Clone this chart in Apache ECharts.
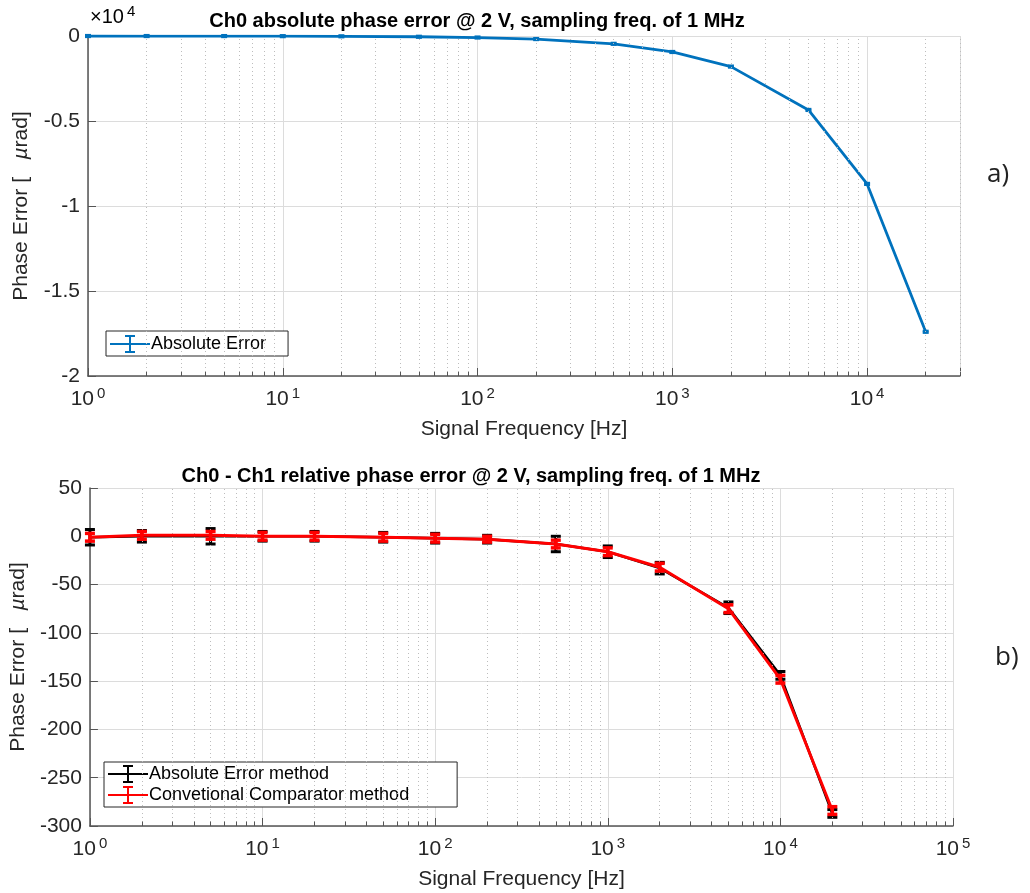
<!DOCTYPE html>
<html>
<head>
<meta charset="utf-8">
<script src="https://cdn.jsdelivr.net/npm/echarts@6/dist/echarts.min.js"></script>
<style>
  html, body { margin: 0; padding: 0; background: #fff; }
  #chart { width: 1030px; height: 893px; }
</style>
</head>
<body>
<div id="chart"></div>
<script>
// signal frequencies [Hz], shared by both panels
const freqs = [1, 2, 5, 10, 20, 50, 100, 200, 500, 1000, 2000, 5000, 10000, 20000]

// a) Ch0 absolute phase error [µrad]
const absError = [-1, -2, -4, -9, -18, -45, -90, -180, -460, -940, -1800, -4350, -8700, -17400]
const absErrorBar = [50, 50, 50, 50, 50, 50, 50, 50, 50, 50, 50, 50, 50, 50]

// b) Ch0 - Ch1 relative phase error [µrad]
const relAbsMethod = [-1, 0, 0, 0, 0, -1, -2, -3, -8, -16, -33, -74, -144, -287]
const relAbsMethodBar = [8, 6, 8, 5, 5, 5, 5, 4, 8, 6, 6, 6, 4, 4]
const relCompMethod = [-1, 1, 1, 0, 0, -1, -2, -3, -8, -16, -32, -75, -148, -284]
const relCompMethodBar = [4, 4, 4, 4, 4, 4, 4, 3, 4, 4, 4, 4, 4, 4]

// dotted minor grid positions on the log axes
const minorTop = [2,3,4,5,6,7,8,9,20,30,40,50,60,70,80,90,200,300,400,500,600,700,800,900,
  2000,3000,4000,5000,6000,7000,8000,9000,20000,30000]
const minorBottom = minorTop.slice(0, -2).concat([20000,30000,40000,50000,60000,70000,80000,90000])

const FONT = 'Arial'
const TXT = '#262626'
const BLUE = '#0072BD'
const ICON = 'path://M0,9L40,9L40,11L0,11Z M19,2L21,2L21,18L19,18Z M15,1L25,1L25,3L15,3Z M15,17L25,17L25,19L15,19Z'

function logLabel(v) {
  const e = Math.round(Math.log10(v))
  if (Math.abs(Math.pow(10, e) - v) > 1e-6 * v) return ''
  return '{b|10}{s|' + e + '}'
}

function xAxisFor(gridIndex, max) {
  return {
    type: 'log', gridIndex, min: 1, max, logBase: 10,
    name: 'Signal Frequency [Hz]', nameLocation: 'middle', nameGap: 43,
    nameTextStyle: { fontFamily: FONT, fontSize: 21, color: TXT },
    axisLine: { onZero: false, lineStyle: { color: '#555', width: 1.5 } },
    axisTick: { inside: true, length: 8, lineStyle: { color: '#555' } },
    splitLine: { show: true, lineStyle: { color: '#dcdcdc', width: 1 } },
    axisLabel: {
      formatter: logLabel, margin: 10, showMaxLabel: true,
      rich: {
        b: { fontFamily: FONT, fontSize: 21, color: TXT, lineHeight: 26 },
        s: { fontFamily: FONT, fontSize: 15, color: TXT, verticalAlign: 'top', lineHeight: 14, padding: [0, 0, 0, 3] }
      }
    }
  }
}

function yAxisFor(gridIndex, min, max, interval, fmt) {
  return {
    type: 'value', gridIndex, min, max, interval,
    name: '{a|Phase Error [   }{m|µ}{a|rad]}', nameLocation: 'middle', nameGap: 56, nameRotate: 90,
    nameTextStyle: {
      rich: {
        a: { fontFamily: FONT, fontSize: 21, color: TXT },
        m: { fontFamily: FONT, fontSize: 21, color: TXT, fontStyle: 'italic' }
      }
    },
    axisLine: { show: true, onZero: false, lineStyle: { color: '#555', width: 1.5 } },
    axisTick: { show: true, inside: true, length: 8, lineStyle: { color: '#555' } },
    splitLine: { show: true, lineStyle: { color: '#dcdcdc', width: 1 } },
    axisLabel: { fontFamily: FONT, fontSize: 21, color: TXT, margin: 8, formatter: fmt }
  }
}

function minorLines(list, yMin, tick) {
  const data = []
  list.forEach(v => {
    data.push({ xAxis: v })
    data.push([{ coord: [v, yMin], lineStyle: { type: 'solid', color: '#555', width: 1 } }, { coord: [v, yMin + tick] }])
  })
  return {
    silent: true, symbol: ['none', 'none'], animation: false,
    label: { show: false },
    lineStyle: { type: [1, 3], color: '#bdbdbd', width: 1 },
    data
  }
}

function errorBars(gridIndex, values, errs, color, capHalf, lw) {
  return {
    type: 'custom', xAxisIndex: gridIndex, yAxisIndex: gridIndex, z: 3,
    data: freqs.map((f, i) => [f, values[i] - errs[i], values[i] + errs[i]]),
    renderItem: (params, api) => {
      const lo = api.coord([api.value(0), api.value(1)])
      const hi = api.coord([api.value(0), api.value(2)])
      const st = { stroke: color, lineWidth: lw }
      return {
        type: 'group',
        children: [
          { type: 'line', shape: { x1: lo[0], y1: lo[1], x2: hi[0], y2: hi[1] }, style: st },
          { type: 'line', shape: { x1: lo[0] - capHalf, y1: lo[1], x2: lo[0] + capHalf, y2: lo[1] }, style: st },
          { type: 'line', shape: { x1: hi[0] - capHalf, y1: hi[1], x2: hi[0] + capHalf, y2: hi[1] }, style: st }
        ]
      }
    }
  }
}

const chart = echarts.init(document.getElementById('chart'), null, { renderer: 'canvas' })

chart.setOption({
  animation: false,
  backgroundColor: '#fff',
  title: [
    { text: 'Ch0 absolute phase error @ 2 V, sampling freq. of 1 MHz', left: 472, top: 6, textAlign: 'center',
      textStyle: { fontFamily: FONT, fontSize: 20, fontWeight: 'bold', color: '#000' } },
    { text: 'Ch0 - Ch1 relative phase error @ 2 V, sampling freq. of 1 MHz', left: 466, top: 461, textAlign: 'center',
      textStyle: { fontFamily: FONT, fontSize: 20, fontWeight: 'bold', color: '#000' } }
  ],
  grid: [
    { left: 88, top: 36, width: 872, height: 340 },
    { left: 88, top: 488, width: 865, height: 338 }
  ],
  xAxis: [xAxisFor(0, 30000), xAxisFor(1, 100000)],
  yAxis: [
    yAxisFor(0, -20000, 0, 5000, v => String(v / 1e4)),
    yAxisFor(1, -300, 50, 50, v => String(v))
  ],
  legend: [
    {
      left: 106, top: 331, orient: 'vertical',
      data: [{ name: 'Absolute Error', icon: ICON }],
      itemWidth: 40, itemHeight: 20, itemGap: 2,
      backgroundColor: '#fff', borderColor: '#262626', borderWidth: 1, borderRadius: 0,
      padding: [4, 22, 3, 4],
      itemStyle: { borderWidth: 0 },
      textStyle: { fontFamily: FONT, fontSize: 18, color: '#000', padding: [0, 0, 0, -4] }
    },
    {
      left: 104, top: 762, orient: 'vertical',
      data: [{ name: 'Absolute Error method', icon: ICON }, { name: 'Convetional Comparator method', icon: ICON }],
      itemWidth: 40, itemHeight: 20, itemGap: 3,
      backgroundColor: '#fff', borderColor: '#262626', borderWidth: 1, borderRadius: 0,
      padding: [3, 48, 3, 4],
      itemStyle: { borderWidth: 0 },
      textStyle: { fontFamily: FONT, fontSize: 18, color: '#000', padding: [0, 0, 0, -4] }
    }
  ],
  graphic: [
    { type: 'text', left: 90, top: 4, style: { text: '{t|×10}{e|4}', rich: {
      t: { fontFamily: FONT, fontSize: 20, color: TXT, lineHeight: 26 },
      e: { fontFamily: FONT, fontSize: 15, color: TXT, verticalAlign: 'top', lineHeight: 14, padding: [0, 0, 0, 3] } } } },
    { type: 'text', left: 987, top: 162, style: { text: 'a)', font: '26px "Open Sans", sans-serif', fill: '#222' } },
    { type: 'text', left: 995, top: 645, style: { text: 'b)', font: '26px "Open Sans", sans-serif', fill: '#222' } }
  ],
  series: [
    { type: 'line', xAxisIndex: 0, yAxisIndex: 0, data: [], z: 0, markLine: minorLines(minorTop, -20000, 240) },
    { type: 'line', xAxisIndex: 1, yAxisIndex: 1, data: [], z: 0, markLine: minorLines(minorBottom, -300, 4.5) },
    errorBars(0, absError, absErrorBar, BLUE, 3, 2.5),
    {
      name: 'Absolute Error', type: 'line', xAxisIndex: 0, yAxisIndex: 0, z: 4,
      data: freqs.map((f, i) => [f, absError[i]]),
      showSymbol: false, symbol: 'none', color: BLUE,
      lineStyle: { color: BLUE, width: 2.8 }
    },
    errorBars(1, relAbsMethod, relAbsMethodBar, '#000', 5, 3),
    {
      name: 'Absolute Error method', type: 'line', xAxisIndex: 1, yAxisIndex: 1, z: 4,
      data: freqs.map((f, i) => [f, relAbsMethod[i]]),
      symbol: 'none', color: '#000',
      lineStyle: { color: '#000', width: 2.5 }
    },
    {
      name: 'Convetional Comparator method', type: 'line', xAxisIndex: 1, yAxisIndex: 1, z: 5,
      data: freqs.map((f, i) => [f, relCompMethod[i]]),
      symbol: 'none', color: '#ff0000',
      lineStyle: { color: '#ff0000', width: 3 }
    },
    Object.assign(errorBars(1, relCompMethod, relCompMethodBar, '#ff0000', 5, 3.5), { z: 6 })
  ]
})
</script>
</body>
</html>
